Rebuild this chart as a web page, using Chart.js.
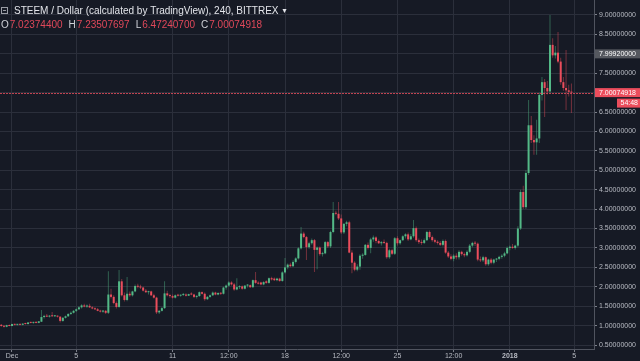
<!DOCTYPE html>
<html>
<head>
<meta charset="utf-8">
<script src="https://cdn.jsdelivr.net/npm/chart.js@4.4.1/dist/chart.umd.min.js"></script>
<style>
  html, body { margin: 0; padding: 0; background: #161a25; }
  #wrap { position: relative; width: 640px; height: 361px; }
</style>
</head>
<body>
<div id="wrap"><canvas id="chart"></canvas></div>
<script>
// STEEM / USD, 4h candles, Nov 30 08:00 -> Jan 4 20:00
const symbolTitle = 'STEEM / Dollar (calculated by TradingView), 240, BITTREX';
const firstCandleDay = -16 / 24;   // days from Dec 1 00:00
const candleDays = 4 / 24;

const opens = [
  1.02, 0.99, 0.97, 1.01, 0.99, 1.04, 1.02, 1.03, 1.02, 1.05,
  1.04, 1.08, 1.07, 1.09, 1.07, 1.10, 1.22, 1.25, 1.23, 1.25,
  1.24, 1.25, 1.23, 1.12, 1.20, 1.24, 1.30, 1.33, 1.38, 1.42,
  1.47, 1.52, 1.49, 1.51, 1.47, 1.44, 1.42, 1.38, 1.36, 1.38,
  1.33, 1.80, 1.74, 1.58, 1.48, 2.14, 1.78, 1.66, 1.82, 1.78,
  1.88, 2.02, 2.00, 1.98, 1.90, 1.86, 1.88, 1.78, 1.72, 1.34,
  1.38, 1.45, 1.83, 1.78, 1.76, 1.72, 1.78, 1.77, 1.79, 1.80,
  1.77, 1.81, 1.80, 1.74, 1.76, 1.86, 1.82, 1.68, 1.74, 1.78,
  1.85, 1.80, 1.84, 1.82, 1.98, 2.03, 2.11, 2.06, 1.93, 1.99,
  2.01, 1.95, 2.03, 2.04, 1.99, 2.17, 2.10, 2.11, 2.06, 2.14,
  2.10, 2.22, 2.21, 2.17, 2.21, 2.15, 2.37, 2.50, 2.57, 2.53,
  2.64, 2.73, 2.99, 3.37, 3.28, 3.02, 3.12, 3.20, 2.95, 3.01,
  2.84, 2.86, 3.15, 3.04, 3.41, 3.90, 3.88, 3.76, 3.40, 3.62,
  3.66, 2.88, 2.62, 2.44, 2.52, 2.80, 2.82, 3.08, 3.00, 3.22,
  3.27, 3.18, 3.12, 3.15, 3.13, 2.76, 2.94, 2.85, 3.25, 3.12,
  3.20, 3.30, 3.35, 3.22, 3.30, 3.51, 3.20, 3.15, 3.13, 3.20,
  3.41, 3.28, 3.20, 3.16, 3.13, 3.08, 3.18, 2.88, 2.78, 2.72,
  2.80, 2.76, 2.90, 2.84, 2.81, 2.90, 3.06, 3.13, 3.11, 2.70,
  2.68, 2.76, 2.58, 2.70, 2.62, 2.70, 2.72, 2.77, 2.80, 2.86,
  3.00, 3.03, 3.00, 3.06, 3.50, 4.44, 4.05, 4.93, 6.16, 5.78,
  5.72, 5.82, 6.94, 7.27, 7.12, 7.03, 8.23, 7.96, 8.03, 7.80,
  7.27, 7.12, 7.06, 7.02374400
];
const highs = [
  1.04, 1.01, 1.02, 1.03, 1.05, 1.05, 1.04, 1.05, 1.06, 1.07,
  1.09, 1.10, 1.10, 1.11, 1.12, 1.40, 1.28, 1.30, 1.27, 1.35,
  1.27, 1.26, 1.24, 1.22, 1.26, 1.32, 1.36, 1.40, 1.44, 1.50,
  1.55, 1.56, 1.54, 1.56, 1.50, 1.47, 1.45, 1.41, 1.40, 1.40,
  2.40, 1.95, 1.78, 1.62, 2.43, 2.20, 1.85, 2.25, 1.88, 1.90,
  2.06, 2.08, 2.05, 2.00, 1.94, 1.90, 1.90, 1.82, 1.74, 1.40,
  1.48, 2.14, 1.90, 1.82, 1.80, 1.80, 1.82, 1.80, 1.84, 1.83,
  1.82, 1.86, 1.82, 1.78, 1.88, 1.88, 1.85, 1.76, 1.80, 1.88,
  1.87, 1.86, 1.86, 2.00, 2.06, 2.14, 2.14, 2.10, 2.22, 2.04,
  2.03, 2.04, 2.07, 2.06, 2.19, 2.38, 2.14, 2.13, 2.14, 2.17,
  2.24, 2.26, 2.24, 2.23, 2.23, 2.40, 2.74, 2.60, 2.62, 2.68,
  2.76, 3.02, 3.54, 3.42, 3.31, 3.16, 3.24, 3.23, 3.04, 3.04,
  2.90, 3.18, 3.18, 3.44, 4.18, 3.96, 4.18, 3.86, 3.64, 3.70,
  3.70, 2.94, 2.66, 2.58, 2.84, 2.86, 3.10, 3.14, 3.26, 3.32,
  3.30, 3.22, 3.18, 3.22, 3.16, 2.98, 2.98, 3.28, 3.30, 3.22,
  3.33, 3.38, 3.40, 3.36, 3.72, 3.55, 3.24, 3.22, 3.24, 3.44,
  3.45, 3.32, 3.24, 3.20, 3.18, 3.22, 3.22, 2.92, 2.84, 2.84,
  2.86, 2.94, 2.93, 2.88, 2.94, 3.10, 3.16, 3.18, 3.14, 2.78,
  2.80, 2.78, 2.72, 2.74, 2.72, 2.74, 2.80, 2.84, 2.90, 3.04,
  3.06, 3.10, 3.08, 3.56, 4.50, 4.60, 5.00, 6.81, 6.40, 5.90,
  6.30, 7.00, 7.40, 7.35, 7.30, 9.00, 8.40, 8.20, 8.56, 7.90,
  7.40, 8.10, 7.20, 7.23507697
];
const lows = [
  0.97, 0.95, 0.96, 0.98, 0.98, 1.01, 1.00, 1.01, 1.01, 1.03,
  1.03, 1.06, 1.05, 1.06, 1.06, 1.09, 1.18, 1.22, 1.21, 1.23,
  1.22, 1.21, 1.08, 1.10, 1.18, 1.22, 1.27, 1.31, 1.35, 1.40,
  1.44, 1.47, 1.46, 1.45, 1.42, 1.40, 1.37, 1.34, 1.33, 1.30,
  1.30, 1.70, 1.55, 1.44, 1.46, 1.75, 1.62, 1.63, 1.74, 1.75,
  1.86, 1.96, 1.94, 1.88, 1.84, 1.80, 1.76, 1.70, 1.30, 1.30,
  1.36, 1.43, 1.75, 1.72, 1.70, 1.70, 1.75, 1.74, 1.76, 1.75,
  1.76, 1.78, 1.71, 1.70, 1.74, 1.80, 1.64, 1.66, 1.72, 1.76,
  1.78, 1.78, 1.79, 1.80, 1.92, 2.00, 2.03, 1.90, 1.91, 1.94,
  1.92, 1.93, 1.98, 1.97, 1.97, 2.08, 2.06, 2.04, 2.04, 2.08,
  2.08, 2.16, 2.15, 2.14, 2.13, 2.13, 2.34, 2.45, 2.50, 2.51,
  2.60, 2.70, 2.96, 3.25, 2.69, 2.98, 3.08, 2.38, 2.45, 2.80,
  2.78, 2.84, 3.00, 3.00, 3.38, 3.84, 3.72, 3.36, 3.36, 3.56,
  2.86, 2.35, 2.40, 2.40, 2.44, 2.72, 2.80, 2.96, 2.86, 3.16,
  3.12, 3.10, 3.06, 3.10, 2.72, 2.72, 2.82, 2.82, 3.06, 3.08,
  3.18, 3.24, 3.18, 3.20, 3.26, 3.16, 3.10, 3.08, 3.10, 3.18,
  3.24, 3.16, 3.12, 3.09, 3.05, 3.04, 2.85, 2.74, 2.68, 2.66,
  2.70, 2.70, 2.80, 2.76, 2.78, 2.86, 3.02, 3.05, 2.66, 2.64,
  2.64, 2.54, 2.54, 2.58, 2.58, 2.64, 2.68, 2.72, 2.76, 2.84,
  2.94, 2.98, 2.96, 3.02, 3.46, 4.00, 4.00, 4.88, 5.70, 5.40,
  5.40, 5.70, 6.80, 6.37, 6.95, 6.98, 7.90, 7.88, 7.76, 7.20,
  7.05, 6.55, 6.90, 6.47240700
];
const closes = [
  0.99, 0.97, 1.01, 0.99, 1.04, 1.02, 1.03, 1.02, 1.05, 1.04,
  1.08, 1.07, 1.09, 1.07, 1.11, 1.22, 1.25, 1.23, 1.25, 1.24,
  1.25, 1.23, 1.12, 1.20, 1.24, 1.30, 1.33, 1.38, 1.42, 1.47,
  1.52, 1.49, 1.51, 1.47, 1.44, 1.42, 1.38, 1.36, 1.38, 1.33,
  1.80, 1.74, 1.58, 1.48, 2.14, 1.78, 1.66, 1.82, 1.78, 1.88,
  2.02, 2.00, 1.98, 1.90, 1.86, 1.88, 1.78, 1.72, 1.34, 1.38,
  1.45, 1.83, 1.78, 1.76, 1.72, 1.78, 1.77, 1.79, 1.80, 1.77,
  1.81, 1.80, 1.74, 1.76, 1.86, 1.82, 1.68, 1.74, 1.78, 1.85,
  1.80, 1.84, 1.82, 1.98, 2.03, 2.11, 2.06, 1.93, 1.99, 2.01,
  1.95, 2.03, 2.04, 1.99, 2.17, 2.10, 2.08, 2.06, 2.12, 2.10,
  2.22, 2.19, 2.17, 2.21, 2.15, 2.37, 2.50, 2.57, 2.53, 2.64,
  2.73, 2.99, 3.37, 3.28, 3.02, 3.12, 3.20, 2.95, 3.01, 2.84,
  2.86, 3.15, 3.04, 3.41, 3.90, 3.88, 3.76, 3.40, 3.62, 3.66,
  2.88, 2.62, 2.44, 2.52, 2.80, 2.82, 3.08, 3.00, 3.22, 3.27,
  3.18, 3.12, 3.15, 3.13, 2.76, 2.94, 2.85, 3.25, 3.12, 3.20,
  3.30, 3.35, 3.22, 3.30, 3.51, 3.20, 3.15, 3.13, 3.20, 3.41,
  3.28, 3.20, 3.16, 3.13, 3.08, 3.18, 2.88, 2.78, 2.72, 2.80,
  2.76, 2.90, 2.84, 2.81, 2.90, 3.06, 3.13, 3.11, 2.70, 2.68,
  2.76, 2.58, 2.70, 2.62, 2.70, 2.72, 2.77, 2.80, 2.86, 3.00,
  3.03, 3.00, 3.06, 3.50, 4.44, 4.05, 4.93, 6.16, 5.78, 5.72,
  5.82, 6.94, 7.27, 7.12, 7.03, 8.23, 7.96, 8.03, 7.80, 7.27,
  7.12, 7.06, 7.02, 7.00074918
];

const markedPrice = 7.9992;
const countdown = '54:48';

const yTicks = [0.5, 1, 1.5, 2, 2.5, 3, 3.5, 4, 4.5, 5, 5.5, 6, 6.5, 7, 7.5, 8, 8.5, 9];
const xTickDays = [0, 4, 10, 13.5, 17, 20.5, 24, 27.5, 31, 35];
const xTickLabels = ['Dec', '5', '11', '12:00', '18', '12:00', '25', '12:00', '2018', '5'];

const palette = {
  bg: '#161a25',
  grid: '#2b2f3b',
  axis: '#50545f',
  tick: '#7c808a',
  text: '#b8bbc3',
  up: '#53b987',
  down: '#eb4d5c',
  upWick: 'rgba(83,185,135,0.45)',
  downWick: 'rgba(235,77,92,0.45)',
  marker: '#55585f'
};

Chart.defaults.font.family = '"Liberation Sans", Arial, sans-serif';

const days = closes.map((c, i) => firstCandleDay + i * candleDays);
const isUp = closes.map((c, i) => c >= opens[i]);

const overlay = {
  id: 'overlay',
  beforeDraw(chart) {
    const ctx = chart.ctx;
    ctx.save();
    ctx.fillStyle = palette.bg;
    ctx.fillRect(0, 0, chart.width, chart.height);
    ctx.restore();
  },
  afterDatasetsDraw(chart) {
    const { ctx, chartArea, scales } = chart;
    const yc = Math.round(scales.y.getPixelForValue(closes[closes.length - 1])) + 0.5;
    ctx.save();
    ctx.strokeStyle = 'rgba(235,77,92,0.8)';
    ctx.lineWidth = 1;
    ctx.setLineDash([2, 1]);
    ctx.beginPath();
    ctx.moveTo(chartArea.left, yc);
    ctx.lineTo(chartArea.right, yc);
    ctx.stroke();
    ctx.restore();
  },
  afterDraw(chart) {
    const { ctx, chartArea, scales } = chart;
    const right = chart.width;
    ctx.save();
    ctx.font = '7px "Liberation Sans", Arial, sans-serif';
    ctx.textBaseline = 'middle';

    // price markers on the axis
    const ym = scales.y.getPixelForValue(markedPrice);
    ctx.fillStyle = palette.marker;
    ctx.fillRect(chartArea.right + 1, ym - 4.5, right - chartArea.right - 1, 9);
    ctx.fillStyle = '#ffffff';
    ctx.fillText(markedPrice.toFixed(8), chartArea.right + 5, ym);

    const last = closes.length - 1;
    const yc = scales.y.getPixelForValue(closes[last]);
    ctx.fillStyle = palette.down;
    ctx.fillRect(chartArea.right + 1, yc - 4.5, right - chartArea.right - 1, 9);
    ctx.fillRect(right - 23, yc + 6, 23, 9);
    ctx.fillStyle = '#ffffff';
    ctx.fillText(closes[last].toFixed(8), chartArea.right + 5, yc);
    ctx.textAlign = 'right';
    ctx.fillText(countdown, right - 2, yc + 10.5);

    // header
    ctx.textAlign = 'left';
    ctx.textBaseline = 'alphabetic';
    ctx.strokeStyle = '#9a9da5';
    ctx.lineWidth = 1;
    ctx.strokeRect(1.5, 7.5, 6, 6);
    ctx.beginPath();
    ctx.moveTo(3, 10.5);
    ctx.lineTo(6, 10.5);
    ctx.stroke();

    ctx.font = '10px "Liberation Sans", Arial, sans-serif';
    ctx.fillStyle = '#e3e5ea';
    ctx.fillText(symbolTitle, 14, 14);
    const tw = ctx.measureText(symbolTitle).width;
    ctx.font = '8px "DejaVu Sans", sans-serif';
    ctx.fillText('\u25BE', 14 + tw + 4, 13);

    ctx.font = '10px "Liberation Sans", Arial, sans-serif';
    const ohlc = [['O', opens[last]], ['H', highs[last]], ['L', lows[last]], ['C', closes[last]]];
    let x = 1;
    ohlc.forEach(([k, v]) => {
      ctx.fillStyle = '#d0d2d8';
      ctx.fillText(k, x, 28);
      x += ctx.measureText(k).width + 1;
      const s = v.toFixed(8);
      ctx.fillStyle = '#e0485a';
      ctx.fillText(s, x, 28);
      x += ctx.measureText(s).width + 6;
    });
    ctx.restore();
  }
};

new Chart(document.getElementById('chart').getContext('2d'), {
  type: 'bar',
  data: {
    datasets: [
      {
        label: 'body',
        data: days.map((d, i) => ({ x: d, y: [opens[i], closes[i]] })),
        backgroundColor: isUp.map(u => (u ? palette.up : palette.down)),
        barThickness: 2,
        minBarLength: 1,
        grouped: false,
        inflateAmount: 0,
        borderWidth: 0
      },
      {
        label: 'wick',
        data: days.map((d, i) => ({ x: d, y: [lows[i], highs[i]] })),
        backgroundColor: isUp.map(u => (u ? palette.upWick : palette.downWick)),
        barThickness: 1,
        grouped: false,
        inflateAmount: 0,
        borderWidth: 0
      }
    ]
  },
  options: {
    responsive: true,
    maintainAspectRatio: false,
    animation: false,
    layout: { padding: 0 },
    plugins: {
      legend: { display: false },
      tooltip: { enabled: false }
    },
    scales: {
      x: {
        type: 'linear',
        offset: false,
        min: -0.747,
        max: 36.24,
        afterBuildTicks: scale => { scale.ticks = xTickDays.map(v => ({ value: v })); },
        afterFit: scale => { scale.height = 12; scale.paddingLeft = 0; scale.paddingRight = 0; },
        grid: { offset: false, color: palette.grid, tickColor: palette.tick, tickLength: 3 },
        border: { color: palette.axis },
        ticks: {
          autoSkip: false,
          maxRotation: 0,
          padding: 0,
          color: palette.text,
          font: ctx => ({ size: 7, weight: ctx.index === 8 ? 'bold' : 'normal' }),
          callback: (v, i) => xTickLabels[i]
        }
      },
      y: {
        type: 'linear',
        position: 'right',
        min: 0.397,
        max: 9.386,
        afterBuildTicks: scale => { scale.ticks = yTicks.map(v => ({ value: v })); },
        afterFit: scale => { scale.width = 46; scale.paddingTop = 0; scale.paddingBottom = 0; },
        grid: { color: palette.grid, tickColor: palette.tick, tickLength: 3 },
        border: { color: palette.axis },
        ticks: {
          padding: 2,
          color: palette.text,
          font: { size: 7 },
          callback: v => Number(v).toFixed(8)
        }
      }
    }
  },
  plugins: [overlay]
});
</script>
</body>
</html>
